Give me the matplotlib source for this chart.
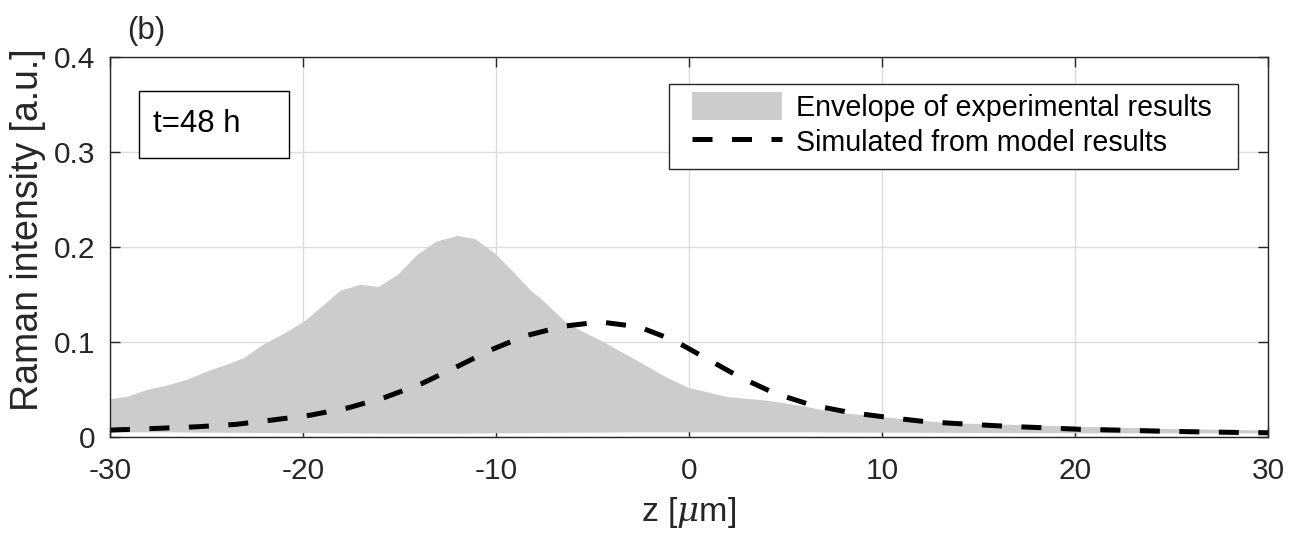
import matplotlib
matplotlib.use("Agg")
import matplotlib.pyplot as plt
from matplotlib.patches import Rectangle

plt.rcParams['font.family'] = ['Liberation Sans', 'DejaVu Sans']
plt.rcParams['mathtext.fontset'] = 'custom'
plt.rcParams['mathtext.it'] = 'DejaVu Serif:italic'
plt.rcParams['mathtext.rm'] = 'Liberation Sans'

# Envelope of experimental results (upper / lower bounds)
env_z = [-30, -29.1, -28.1, -27.1, -26, -25, -24, -23.1, -22.1, -21, -20, -19, -18.1,
         -17.05, -16.1, -15.1, -14.1, -13.1, -12.0, -11.1, -10.05, -9.1, -8.2, -7.7,
         -6.3, -4.6, -2.9, -1.2, -0.05, 2.0, 4.0, 5.75, 7.5, 10.0, 13.5, 16.5, 19.9, 25, 30]
env_upper = [0.040, 0.0426, 0.0497, 0.054, 0.0605, 0.069, 0.076, 0.083, 0.097, 0.109,
             0.121, 0.138, 0.154, 0.1605, 0.158, 0.171, 0.192, 0.206, 0.212, 0.2086,
             0.193, 0.1735, 0.154, 0.146, 0.119, 0.1016, 0.0826, 0.063, 0.0518, 0.042,
             0.0384, 0.033, 0.026, 0.021, 0.0145, 0.013, 0.011, 0.0085, 0.0068]
env_lower = [0.005, 0.005, 0.005, 0.005, 0.0048, 0.0046, 0.0045, 0.0044, 0.0043, 0.0042,
             0.0042, 0.004, 0.004, 0.0039, 0.0038, 0.0037, 0.0036, 0.0036, 0.0036, 0.0038,
             0.004, 0.004, 0.0042, 0.0043, 0.0045, 0.0047, 0.005, 0.005, 0.005, 0.005,
             0.005, 0.005, 0.0048, 0.0046, 0.0044, 0.0042, 0.004, 0.004, 0.004]

# Simulated from model results
sim_z = [-30, -27.6, -25.5, -23.5, -21.6, -19.6, -17.65, -15.75, -13.9, -12.1, -10.3,
         -8.5, -6.5, -4.6, -2.6, -0.8, 0.9, 2.6, 4.45, 6.35, 8.3, 10.3, 12.3, 14.3,
         16.3, 18.3, 20.3, 22.2, 24.2, 26.2, 28.2, 30]
sim_y = [0.0068, 0.0086, 0.0103, 0.0128, 0.0174, 0.0226, 0.0303, 0.0413, 0.0553, 0.0728,
         0.091, 0.106, 0.1163, 0.1208, 0.1156, 0.1016, 0.0823, 0.063, 0.0455, 0.0332,
         0.0255, 0.0202, 0.0156, 0.0132, 0.011, 0.0093, 0.0076, 0.0068, 0.0058, 0.005,
         0.0044, 0.004]

x_ticks = [-30, -20, -10, 0, 10, 20, 30]
x_ticklabels = ['-30', '-20', '-10', '0', '10', '20', '30']
y_ticks = [0, 0.1, 0.2, 0.3, 0.4]
y_ticklabels = ['0', '0.1', '0.2', '0.3', '0.4']

DARK = '#262626'

fig = plt.figure(figsize=(12.89, 5.35), dpi=100)
ax = fig.add_axes([0.0853, 0.184, 0.8984, 0.7095])

ax.fill_between(env_z, env_lower, env_upper, color='#cccccc', linewidth=0,
                label='Envelope of experimental results', zorder=2)
ax.plot(sim_z, sim_y, color='black', linewidth=3.6, dashes=(4.0, 3.9),
        label='Simulated from model results', zorder=3)

ax.set_xlim(-30, 30)
ax.set_ylim(0, 0.4)
ax.set_xticks(x_ticks)
ax.set_xticklabels(x_ticklabels)
ax.set_yticks(y_ticks)
ax.set_yticklabels(y_ticklabels)
ax.grid(True, color='#dcdcdc', linewidth=1.0, zorder=1)
for s in ax.spines.values():
    s.set_color(DARK)
    s.set_linewidth(1.0)
    s.set_zorder(4)
ax.tick_params(direction='in', length=7, width=1.0, colors=DARK,
               labelcolor=DARK, labelsize=21.5, top=True, right=True)
ax.tick_params(axis='y', pad=10.8)
ax.tick_params(axis='x', pad=15.0)

ax.set_xlabel(r'z [$\mu$m]', fontsize=24.5, color=DARK)
ax.xaxis.label.set_va('center')
ax.xaxis.set_label_coords(0.5, -0.199)
ax.set_ylabel('Raman intensity [a.u.]', fontsize=27, color=DARK)
ax.yaxis.label.set_va('center')
ax.yaxis.set_label_coords(-0.0705, 0.544)

# legend frame drawn separately so its padding matches the reference
ax.add_patch(Rectangle((0.4827, 0.7049), 0.4913, 0.224, transform=ax.transAxes,
                       facecolor='white', edgecolor=DARK, linewidth=1.0, zorder=5))
leg = ax.legend(loc='upper left', bbox_to_anchor=(0.5026, 0.9086), borderaxespad=0,
                fontsize=20.6, frameon=False, handlelength=3.15, handleheight=1.15,
                borderpad=0, labelspacing=0.185, handletextpad=0.5)
leg.set_zorder(6)

ax.add_patch(Rectangle((0.025, 0.734), 0.1296, 0.176, transform=ax.transAxes,
                       facecolor='white', edgecolor='black', linewidth=1.0, zorder=5))
ax.text(0.0371, 0.803, 't=48 h', transform=ax.transAxes, fontsize=22.5,
        ha='left', va='baseline', color='black', zorder=6)

fig.text(146 / 1289, 1 - 31 / 535, '(b)', fontsize=22.5, color=DARK,
         ha='center', va='center')

fig.savefig('out.png', dpi=100)
